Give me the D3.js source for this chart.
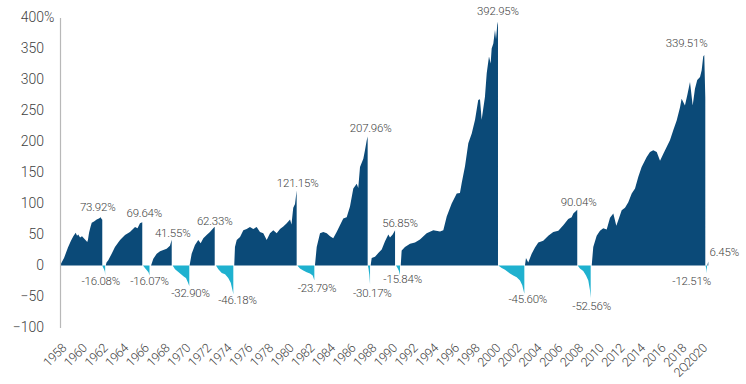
<!DOCTYPE html>
<html>
<head>
<meta charset="utf-8">
<script src="https://cdn.jsdelivr.net/npm/d3@7"></script>
<style>
  html, body { margin: 0; padding: 0; background: #ffffff; }
  svg { display: block; }
</style>
</head>
<body>
<svg id="chart" width="746" height="384"></svg>
<script>
const WIDTH = 746;
const HEIGHT = 384;
const BULL = '#0b4a78';
const BEAR = '#1fb1cf';
const TEXT = '#3f3f3f';
const AXIS = '#b8b8b8';
const FONT = 'Roboto, "Liberation Sans", sans-serif';

// cumulative return (%) per market phase, as [decimal year, value]
const bullMarkets = [
  [[1957.80, 0], [1958.19, 12], [1958.57, 29], [1958.86, 40], [1959.09, 47], [1959.32, 53], [1959.45, 48],
   [1959.57, 50], [1959.74, 45], [1959.93, 47], [1960.22, 42], [1960.44, 38], [1960.51, 42], [1960.61, 53],
   [1960.75, 62], [1960.87, 69], [1961.09, 71], [1961.35, 74], [1961.57, 76], [1961.74, 78], [1961.82, 75],
   [1961.89, 73.92]],
  [[1962.22, 0], [1962.30, 5], [1962.47, 8.5], [1962.80, 19], [1963.12, 30], [1963.61, 41], [1964.09, 49],
   [1964.57, 54], [1965.06, 62], [1965.30, 60], [1965.54, 68], [1965.76, 69.64]],
  [[1966.61, 0], [1966.83, 11], [1967.16, 19], [1967.48, 23], [1967.80, 25], [1968.12, 27], [1968.44, 32],
   [1968.61, 41.55]],
  [[1970.34, 0], [1970.54, 19], [1970.86, 33], [1971.18, 41], [1971.41, 36], [1971.67, 44], [1971.99, 49],
   [1972.31, 54], [1972.63, 60], [1972.77, 62.33]],
  [[1974.66, 0], [1974.73, 30], [1974.90, 41], [1975.22, 46], [1975.54, 57], [1975.86, 59], [1976.18, 62],
   [1976.50, 59], [1976.83, 62], [1977.15, 54], [1977.47, 52], [1977.80, 41], [1978.12, 52], [1978.44, 57],
   [1978.77, 52], [1979.09, 59], [1979.41, 63], [1979.74, 68], [1980.06, 74], [1980.20, 66], [1980.37, 93],
   [1980.54, 99], [1980.70, 121.15]],
  [[1982.47, 0], [1982.64, 30], [1982.96, 52], [1983.28, 54], [1983.61, 52], [1983.93, 47], [1984.24, 44],
   [1984.57, 54], [1984.89, 65], [1985.21, 76], [1985.54, 78], [1985.86, 95], [1986.18, 124], [1986.51, 132],
   [1986.66, 125], [1986.83, 159], [1987.15, 172], [1987.31, 186], [1987.48, 202], [1987.57, 207.96]],
  [[1987.86, 0], [1987.96, 12], [1988.28, 14], [1988.60, 20], [1988.93, 26], [1989.25, 39], [1989.57, 50],
   [1989.73, 45], [1989.99, 50], [1990.22, 56.85]],
  [[1990.77, 0], [1990.86, 24], [1991.18, 30], [1991.67, 35], [1992.15, 37], [1992.63, 42], [1993.28, 52],
   [1993.92, 57], [1994.57, 55], [1994.89, 57], [1995.22, 79], [1995.70, 100], [1996.19, 116], [1996.50, 117],
   [1996.67, 133], [1996.99, 160], [1997.31, 197], [1997.64, 213], [1997.96, 235], [1998.27, 267],
   [1998.44, 268], [1998.60, 235], [1998.92, 272], [1999.09, 310], [1999.31, 337], [1999.47, 326],
   [1999.57, 350], [1999.73, 358], [1999.89, 380], [1999.99, 365], [2000.11, 388], [2000.18, 392.95]],
  [[2002.79, 0], [2002.89, 12], [2003.11, 5], [2003.44, 19], [2003.76, 29], [2004.08, 37], [2004.56, 40],
   [2005.05, 48], [2005.53, 54], [2006.02, 56], [2006.50, 65], [2006.98, 75], [2007.31, 78], [2007.47, 84],
   [2007.73, 88], [2007.85, 90.04]],
  [[2009.25, 0], [2009.40, 30], [2009.73, 48], [2010.05, 56], [2010.37, 60], [2010.70, 58], [2011.02, 77],
   [2011.34, 84], [2011.63, 64], [2011.82, 73], [2012.15, 89], [2012.47, 93], [2012.79, 102], [2013.12, 116],
   [2013.44, 124], [2013.76, 143], [2014.08, 159], [2014.57, 175], [2014.89, 183], [2015.21, 186],
   [2015.54, 183], [2015.86, 169], [2016.17, 180], [2016.50, 191], [2016.82, 202], [2017.14, 218],
   [2017.47, 234], [2017.79, 255], [2017.95, 269], [2018.27, 258], [2018.50, 275], [2018.76, 296],
   [2019.02, 258], [2019.24, 285], [2019.46, 299], [2019.73, 304], [2019.89, 315], [2020.04, 337],
   [2020.14, 339.51], [2020.24, 270]],
  [[2020.43, 0], [2020.53, 6.45]]
];

const bearMarkets = [
  [[1961.89, 0], [1961.96, -3], [1962.06, -6], [1962.14, -10], [1962.17, -16.08]],
  [[1965.83, 0], [1966.02, -4], [1966.22, -8], [1966.36, -11], [1966.46, -16.07]],
  [[1968.70, 0], [1968.93, -6], [1969.22, -10], [1969.51, -14], [1969.80, -18], [1969.99, -20],
   [1970.19, -28], [1970.31, -32.90]],
  [[1972.89, 0], [1973.12, -6], [1973.45, -12], [1973.77, -14], [1974.08, -20], [1974.32, -28],
   [1974.51, -41], [1974.57, -46.18]],
  [[1980.76, 0], [1981.02, -5], [1981.34, -8], [1981.67, -11], [1981.99, -13], [1982.25, -16],
   [1982.41, -23.79]],
  [[1987.59, 0], [1987.65, -5], [1987.73, -15], [1987.80, -30.17]],
  [[1990.31, 0], [1990.46, -4], [1990.60, -9], [1990.70, -15.84]],
  [[2000.21, 0], [2000.54, -4], [2000.86, -7], [2001.18, -11], [2001.34, -13], [2001.66, -16],
   [2001.99, -19], [2002.31, -24], [2002.53, -32], [2002.73, -45.60]],
  [[2007.89, 0], [2008.11, -5], [2008.43, -9], [2008.70, -16], [2008.92, -24], [2009.08, -40],
   [2009.15, -52.56]],
  [[2020.26, 0], [2020.35, -6], [2020.40, -12.51]]
];

const bullReturns = [73.92, 69.64, 41.55, 62.33, 121.15, 207.96, 56.85, 392.95, 90.04, 339.51, 6.45];
const bearReturns = [-16.08, -16.07, -32.90, -46.18, -23.79, -30.17, -15.84, -45.60, -52.56, -12.51];

// label offsets from the peak / trough point, in px
const bullNudge = [[-3, -8.5], [2, -5.4], [1, -3], [0, -2], [1, -3.5], [3, -5], [5, -3], [0, -7], [1.4, -3.5], [-17.6, -8], [16, -6]];
const bearNudge = [[-4.4, 9.7], [0, 9.7], [1.2, 11], [4.2, 9.4], [2.7, 12.2], [2.3, 12.7], [2.7, 7.6], [3.5, 9.7], [1, 12], [-15.3, 12]];

const yTicks = [-100, -50, 0, 50, 100, 150, 200, 250, 300, 350, 400];
const xTickYears = [1958, 1960, 1962, 1964, 1966, 1968, 1970, 1972, 1974, 1976, 1978, 1980, 1982, 1984, 1986,
  1988, 1990, 1992, 1994, 1996, 1998, 2000, 2002, 2004, 2006, 2008, 2010, 2012, 2014, 2016, 2018, 2020];
const xTickLabels = ['1958', '1960', '1962', '1964', '1966', '1968', '1970', '1972', '1974', '1976', '1978',
  '1980', '1982', '1984', '1986', '1988', '1990', '1992', '1994', '1996', '1998', '2000', '2002', '2004',
  '2006', '2008', '2010', '2012', '2014', '2016', '2018', '2Q2020'];

const svg = d3.select('#chart')
  .attr('viewBox', `0 0 ${WIDTH} ${HEIGHT}`)
  .style('background', '#ffffff');

const x = d3.scaleLinear().domain([1957.8, 2020.55]).range([60, 708.5]);
const y = d3.scaleLinear().domain([-100, 400]).range([327.5, 17.5]);

const area = d3.area()
  .x(d => x(d[0]))
  .y0(y(0))
  .y1(d => y(d[1]));

svg.append('g').selectAll('path')
  .data(bearMarkets)
  .join('path')
  .attr('d', area)
  .attr('fill', BEAR);

svg.append('g').selectAll('path')
  .data(bullMarkets)
  .join('path')
  .attr('d', area)
  .attr('fill', BULL);

// y axis
const yAxis = svg.append('g')
  .attr('transform', 'translate(60,0)')
  .call(d3.axisLeft(y).tickValues(yTicks).tickSize(0).tickSizeOuter(0).tickPadding(16).tickFormat(d3.format('d')));
yAxis.select('.domain').attr('stroke', AXIS).attr('stroke-width', 1.2);
yAxis.selectAll('text')
  .attr('fill', TEXT)
  .attr('font-size', 14)
  .attr('font-weight', 300)
  .attr('font-family', FONT);
yAxis.selectAll('.tick')
  .filter(d => d === 400)
  .append('text')
  .attr('x', -16)
  .attr('dy', '0.32em')
  .attr('text-anchor', 'start')
  .attr('fill', TEXT)
  .attr('font-size', 14)
  .attr('font-weight', 300)
  .attr('font-family', FONT)
  .text('%');

// x tick labels, rotated
svg.append('g').selectAll('text')
  .data(xTickYears)
  .join('text')
  .attr('transform', (d, i) => `translate(${x(d) + 5},349) rotate(-45)`)
  .attr('text-anchor', 'end')
  .attr('fill', TEXT)
  .attr('font-size', 12.5)
  .attr('font-weight', 300)
  .attr('letter-spacing', -0.4)
  .attr('font-family', FONT)
  .text((d, i) => xTickLabels[i]);

const fmt = v => `${v.toFixed(2)}%`;

// peak labels
svg.append('g').selectAll('text')
  .data(bullMarkets)
  .join('text')
  .attr('x', (d, i) => x(d3.greatest(d, p => p[1])[0]) + bullNudge[i][0])
  .attr('y', (d, i) => y(bullReturns[i]) + bullNudge[i][1])
  .attr('text-anchor', 'middle')
  .attr('fill', TEXT)
  .attr('font-size', 11.5)
  .attr('font-weight', 300)
  .attr('letter-spacing', -0.2)
  .attr('font-family', FONT)
  .text((d, i) => fmt(bullReturns[i]));

// trough labels
svg.append('g').selectAll('text')
  .data(bearMarkets)
  .join('text')
  .attr('x', (d, i) => x(d[d.length - 1][0]) + bearNudge[i][0])
  .attr('y', (d, i) => y(bearReturns[i]) + bearNudge[i][1])
  .attr('text-anchor', 'middle')
  .attr('fill', TEXT)
  .attr('font-size', 11.5)
  .attr('font-weight', 300)
  .attr('letter-spacing', -0.2)
  .attr('font-family', FONT)
  .text((d, i) => fmt(bearReturns[i]));
</script>
</body>
</html>
